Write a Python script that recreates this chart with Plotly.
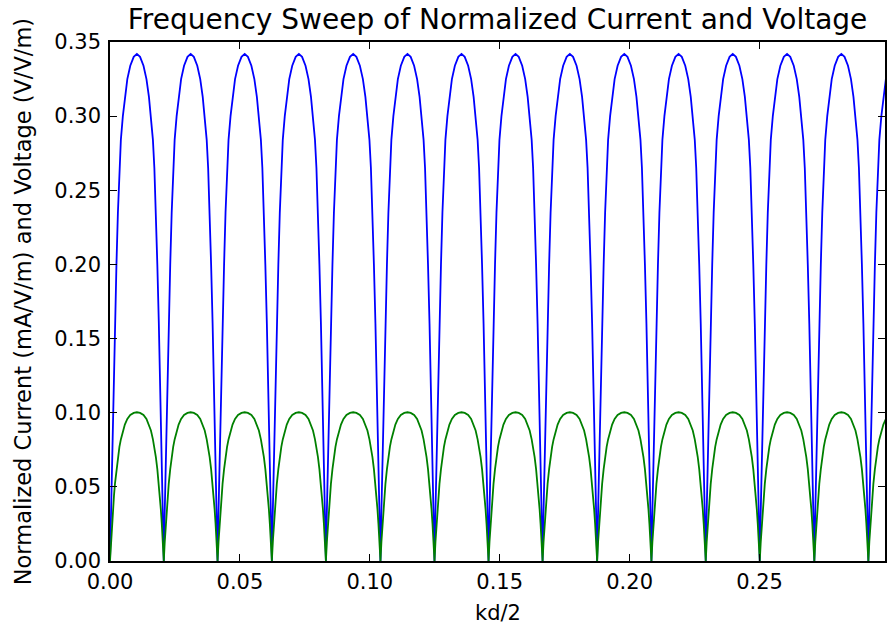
import plotly.graph_objects as go

# Zero crossings (kd/2); arches repeat between them.
arch_zeros = [0.0, 0.0207, 0.0414, 0.0623, 0.0831, 0.1041, 0.1249, 0.1457,
              0.1665, 0.1875, 0.2084, 0.2293, 0.2501, 0.2711, 0.2919, 0.3128]

arch_frac = [0.0, 0.018, 0.037, 0.055, 0.074, 0.092, 0.120, 0.147, 0.175, 0.202,
             0.239, 0.276, 0.322, 0.377, 0.441, 0.500, 0.559, 0.623, 0.678, 0.724,
             0.761, 0.798, 0.825, 0.853, 0.880, 0.908, 0.926, 0.945, 0.963, 0.982]

blue_arch = [0.0, 0.034, 0.068, 0.100, 0.130, 0.160, 0.200, 0.235, 0.265, 0.284,
             0.300, 0.313, 0.325, 0.334, 0.340, 0.342, 0.340, 0.334, 0.325, 0.313,
             0.300, 0.284, 0.265, 0.235, 0.200, 0.160, 0.130, 0.100, 0.068, 0.034]

green_arch = [0.0, 0.013, 0.025, 0.035, 0.044, 0.052, 0.062, 0.070, 0.077, 0.082,
              0.088, 0.092, 0.0958, 0.0985, 0.0999, 0.1003, 0.0999, 0.0985, 0.0958, 0.092,
              0.088, 0.082, 0.077, 0.070, 0.062, 0.052, 0.044, 0.035, 0.025, 0.013]

x_ticks = [0.00, 0.05, 0.10, 0.15, 0.20, 0.25]
y_ticks = [0.00, 0.05, 0.10, 0.15, 0.20, 0.25, 0.30, 0.35]

xs, yb, yg = [], [], []
for k in range(len(arch_zeros) - 1):
    a, b = arch_zeros[k], arch_zeros[k + 1]
    for f, vb, vg in zip(arch_frac, blue_arch, green_arch):
        xs.append(a + f * (b - a))
        yb.append(vb)
        yg.append(vg)
xs.append(arch_zeros[-1]); yb.append(0.0); yg.append(0.0)

FONT = "DejaVu Sans"
fig = go.Figure()
fig.add_trace(go.Scatter(x=xs, y=yb, mode="lines", name="Voltage",
                         line=dict(color="#0000ff", width=1.8)))
fig.add_trace(go.Scatter(x=xs, y=yg, mode="lines", name="Current",
                         line=dict(color="#008000", width=1.8)))

axis_common = dict(showline=True, linecolor="black", linewidth=1.5, mirror="ticks",
                   ticks="inside", ticklen=7, tickwidth=1.1, tickcolor="black",
                   showgrid=False, zeroline=False,
                   tickfont=dict(family=FONT, size=21, color="black"))

fig.update_layout(
    width=889, height=630,
    margin=dict(l=110, r=2, t=42, b=69),
    paper_bgcolor="white", plot_bgcolor="white",
    showlegend=False,
    font=dict(family=FONT, color="black"),
    title=dict(text="Frequency Sweep of Normalized Current and Voltage",
               x=0.5, xref="paper", xanchor="center",
               y=1 - 19 / 630, yref="container", yanchor="middle",
               font=dict(family=FONT, size=28, color="black")),
    xaxis=dict(range=[0, 0.2983], tickvals=x_ticks, tickformat=".2f",
               ticklabelstandoff=1, **axis_common),
    yaxis=dict(range=[0, 0.35], tickvals=y_ticks, tickformat=".2f",
               ticklabelstandoff=3, **axis_common),
    annotations=[
        dict(text="kd/2", xref="paper", yref="paper", x=0.5, y=(561 - 613) / 519,
             xanchor="center", yanchor="middle", showarrow=False,
             font=dict(family=FONT, size=21, color="black")),
        dict(text="Normalized Current (mA/V/m) and Voltage (V/V/m)",
             xref="paper", yref="paper", x=(22.5 - 110) / 777, y=0.5,
             xanchor="center", yanchor="middle", textangle=-90, showarrow=False,
             font=dict(family=FONT, size=22.5, color="black")),
    ],
)

fig.write_html("out.html", config={"displayModeBar": False},
               post_script="document.body.style.margin='0';document.body.style.overflow='hidden';")
